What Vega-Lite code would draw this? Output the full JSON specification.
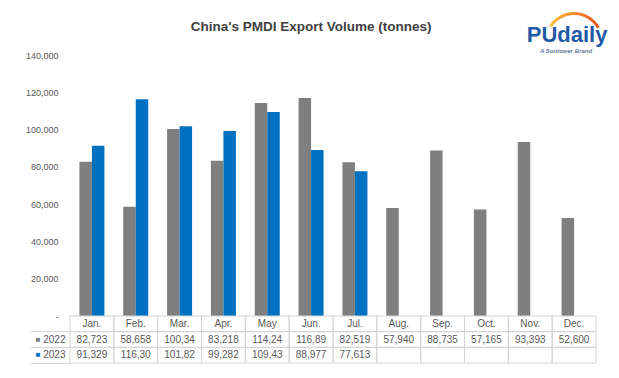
{
  "$schema": "https://vega.github.io/schema/vega-lite/v6.json",
  "width": 526,
  "height": 308,
  "autosize": {"type": "none"},
  "padding": {"left": 70, "top": 55, "right": 23, "bottom": 15},
  "background": "white",
  "config": {"view": {"stroke": null}, "font": "Liberation Sans"},
  "datasets": {
    "volumes": [
      {"month": "Jan.", "year": "2022", "value": 82723, "label": "82,723"},
      {"month": "Feb.", "year": "2022", "value": 58658, "label": "58,658"},
      {"month": "Mar.", "year": "2022", "value": 100340, "label": "100,34"},
      {"month": "Apr.", "year": "2022", "value": 83218, "label": "83,218"},
      {"month": "May", "year": "2022", "value": 114240, "label": "114,24"},
      {"month": "Jun.", "year": "2022", "value": 116890, "label": "116,89"},
      {"month": "Jul.", "year": "2022", "value": 82519, "label": "82,519"},
      {"month": "Aug.", "year": "2022", "value": 57940, "label": "57,940"},
      {"month": "Sep.", "year": "2022", "value": 88735, "label": "88,735"},
      {"month": "Oct.", "year": "2022", "value": 57165, "label": "57,165"},
      {"month": "Nov.", "year": "2022", "value": 93393, "label": "93,393"},
      {"month": "Dec.", "year": "2022", "value": 52600, "label": "52,600"},
      {"month": "Jan.", "year": "2023", "value": 91329, "label": "91,329"},
      {"month": "Feb.", "year": "2023", "value": 116300, "label": "116,30"},
      {"month": "Mar.", "year": "2023", "value": 101820, "label": "101,82"},
      {"month": "Apr.", "year": "2023", "value": 99282, "label": "99,282"},
      {"month": "May", "year": "2023", "value": 109430, "label": "109,43"},
      {"month": "Jun.", "year": "2023", "value": 88977, "label": "88,977"},
      {"month": "Jul.", "year": "2023", "value": 77613, "label": "77,613"},
      {"month": "Aug.", "year": "2023", "value": null, "label": ""},
      {"month": "Sep.", "year": "2023", "value": null, "label": ""},
      {"month": "Oct.", "year": "2023", "value": null, "label": ""},
      {"month": "Nov.", "year": "2023", "value": null, "label": ""},
      {"month": "Dec.", "year": "2023", "value": null, "label": ""}
    ],
    "months": [
      {"month": "Jan."}, {"month": "Feb."}, {"month": "Mar."}, {"month": "Apr."},
      {"month": "May"}, {"month": "Jun."}, {"month": "Jul."}, {"month": "Aug."},
      {"month": "Sep."}, {"month": "Oct."}, {"month": "Nov."}, {"month": "Dec."}
    ]
  },
  "resolve": {"scale": {"y": "independent"}, "axis": {"y": "independent"}},
  "layer": [
    {
      "layer": [
        {
          "data": {"name": "volumes"},
          "mark": {"type": "bar"},
          "encoding": {
            "x": {"field": "month", "type": "nominal", "scale": {"domain": ["Jan.","Feb.","Mar.","Apr.","May","Jun.","Jul.","Aug.","Sep.","Oct.","Nov.","Dec."], "paddingInner": 0, "paddingOuter": 0}, "axis": null},
            "xOffset": {"field": "year", "type": "nominal", "scale": {"domain": ["2022", "2023"], "paddingInner": 0, "paddingOuter": 0.753}},
            "y": {"field": "value", "type": "quantitative", "scale": {"domain": [0, 140000], "range": [261, 0], "nice": false, "zero": false},
                  "axis": {"orient": "left", "values": [0, 20000, 40000, 60000, 80000, 100000, 120000, 140000], "labelExpr": "datum.value === 0 ? '-\u00a0\u00a0' : format(datum.value, ',')", "ticks": false, "domain": false, "grid": false, "labelPadding": 12, "labelFontSize": 9, "labelColor": "#595959", "title": null}},
            "color": {"field": "year", "type": "nominal", "scale": {"domain": ["2022", "2023"], "range": ["#7F7F7F", "#0070C0"]}, "legend": null}
          }
        },
        {
          "data": {"values": [{}]},
          "mark": {"type": "text", "text": "China's PMDI Export Volume (tonnes)", "fontSize": 13.5, "fontWeight": "bold", "color": "#404040", "align": "center", "baseline": "alphabetic"},
          "encoding": {
            "x": {"datum": "Jun.", "type": "nominal", "scale": {"domain": ["Jan.","Feb.","Mar.","Apr.","May","Jun.","Jul.","Aug.","Sep.","Oct.","Nov.","Dec."], "paddingInner": 0, "paddingOuter": 0}, "axis": null},
            "y": {"datum": 152900, "type": "quantitative", "scale": {"domain": [0, 140000], "range": [261, 0], "nice": false, "zero": false}}
          }
        },
        {
          "data": {"values": [{}]},
          "mark": {"type": "arc", "innerRadius": 26.5, "outerRadius": 29.5, "theta": -1.0, "theta2": 1.05,
                   "fill": {"gradient": "linear", "x1": 0, "y1": 0, "x2": 1, "y2": 0, "stops": [{"offset": 0, "color": "#F9C23C"}, {"offset": 1, "color": "#E8532B"}]}},
          "encoding": {
            "x": {"datum": "Dec.", "type": "nominal", "scale": {"domain": ["Jan.","Feb.","Mar.","Apr.","May","Jun.","Jul.","Aug.","Sep.","Oct.","Nov.","Dec."], "paddingInner": 0, "paddingOuter": 0}, "axis": null},
            "y": {"datum": 147200, "type": "quantitative", "scale": {"domain": [0, 140000], "range": [261, 0], "nice": false, "zero": false}}
          }
        },
        {
          "data": {"values": [{}]},
          "mark": {"type": "text", "text": "PUdaily", "fontSize": 22, "fontWeight": "bold", "color": "#1F5AA6", "align": "center", "baseline": "alphabetic", "dx": -7},
          "encoding": {
            "x": {"datum": "Dec.", "type": "nominal", "scale": {"domain": ["Jan.","Feb.","Mar.","Apr.","May","Jun.","Jul.","Aug.","Sep.","Oct.","Nov.","Dec."], "paddingInner": 0, "paddingOuter": 0}, "axis": null},
            "y": {"datum": 146800, "type": "quantitative", "scale": {"domain": [0, 140000], "range": [261, 0], "nice": false, "zero": false}}
          }
        },
        {
          "data": {"values": [{}]},
          "mark": {"type": "text", "text": "A Suntower Brand", "fontSize": 6, "fontWeight": "bold", "fontStyle": "italic", "color": "#6B7A99", "align": "center", "baseline": "alphabetic", "dx": -8},
          "encoding": {
            "x": {"datum": "Dec.", "type": "nominal", "scale": {"domain": ["Jan.","Feb.","Mar.","Apr.","May","Jun.","Jul.","Aug.","Sep.","Oct.","Nov.","Dec."], "paddingInner": 0, "paddingOuter": 0}, "axis": null},
            "y": {"datum": 141070, "type": "quantitative", "scale": {"domain": [0, 140000], "range": [261, 0], "nice": false, "zero": false}}
          }
        }
      ]
    },
    {
      "layer": [
        {
          "data": {"name": "volumes"},
          "mark": {"type": "rect", "fillOpacity": 0, "stroke": "#D4D4D4", "strokeWidth": 1},
          "encoding": {
            "x": {"field": "month", "type": "nominal", "scale": {"domain": ["Jan.","Feb.","Mar.","Apr.","May","Jun.","Jul.","Aug.","Sep.","Oct.","Nov.","Dec."], "paddingInner": 0, "paddingOuter": 0}, "axis": null},
            "y": {"field": "year", "type": "nominal", "scale": {"type": "band", "domain": ["Month", "2022", "2023"], "range": [261, 308], "paddingInner": 0, "paddingOuter": 0},
                  "axis": {"orient": "left", "values": ["Month", "2022", "2023"], "labelExpr": "datum.value === 'Month' ? '' : datum.value", "bandPosition": 1, "tickSize": 40, "tickColor": "#D4D4D4", "ticks": true, "domain": false, "grid": false, "labelPadding": -35, "labelFontSize": 10, "labelColor": "#595959", "title": null}}
          }
        },
        {
          "data": {"name": "months"},
          "mark": {"type": "rect", "fillOpacity": 0, "stroke": "#D4D4D4", "strokeWidth": 1},
          "encoding": {
            "x": {"field": "month", "type": "nominal", "scale": {"domain": ["Jan.","Feb.","Mar.","Apr.","May","Jun.","Jul.","Aug.","Sep.","Oct.","Nov.","Dec."], "paddingInner": 0, "paddingOuter": 0}, "axis": null},
            "y": {"datum": "Month", "type": "nominal", "scale": {"type": "band", "domain": ["Month", "2022", "2023"], "range": [261, 308], "paddingInner": 0, "paddingOuter": 0},
                  "axis": {"orient": "left", "values": ["Month", "2022", "2023"], "labelExpr": "datum.value === 'Month' ? '' : datum.value", "bandPosition": 1, "tickSize": 40, "tickColor": "#D4D4D4", "ticks": true, "domain": false, "grid": false, "labelPadding": -35, "labelFontSize": 10, "labelColor": "#595959", "title": null}}
          }
        }
      ]
    },
    {
      "layer": [
        {
          "data": {"name": "volumes"},
          "mark": {"type": "text", "fontSize": 10, "color": "#595959"},
          "encoding": {
            "x": {"field": "month", "type": "nominal", "scale": {"domain": ["Jan.","Feb.","Mar.","Apr.","May","Jun.","Jul.","Aug.","Sep.","Oct.","Nov.","Dec."], "paddingInner": 0, "paddingOuter": 0}, "axis": null},
            "y": {"field": "year", "type": "nominal", "scale": {"type": "band", "domain": ["Month", "2022", "2023"], "range": [261, 308], "paddingInner": 0, "paddingOuter": 0},
                  "axis": {"orient": "left", "values": ["2022", "2023"], "labelExpr": "'■'", "labelColor": {"condition": {"test": "datum.value === '2022'", "value": "#7F7F7F"}, "value": "#0070C0"}, "ticks": false, "domain": false, "grid": false, "labelPadding": 30, "labelFontSize": 8, "title": null}},
            "text": {"field": "label"}
          }
        },
        {
          "data": {"name": "months"},
          "mark": {"type": "text", "fontSize": 10, "color": "#595959"},
          "encoding": {
            "x": {"field": "month", "type": "nominal", "scale": {"domain": ["Jan.","Feb.","Mar.","Apr.","May","Jun.","Jul.","Aug.","Sep.","Oct.","Nov.","Dec."], "paddingInner": 0, "paddingOuter": 0}, "axis": null},
            "y": {"datum": "Month", "type": "nominal", "scale": {"type": "band", "domain": ["Month", "2022", "2023"], "range": [261, 308], "paddingInner": 0, "paddingOuter": 0},
                  "axis": {"orient": "left", "values": ["2022", "2023"], "labelExpr": "'■'", "labelColor": {"condition": {"test": "datum.value === '2022'", "value": "#7F7F7F"}, "value": "#0070C0"}, "ticks": false, "domain": false, "grid": false, "labelPadding": 30, "labelFontSize": 8, "title": null}},
            "text": {"field": "month"}
          }
        }
      ]
    }
  ]
}
